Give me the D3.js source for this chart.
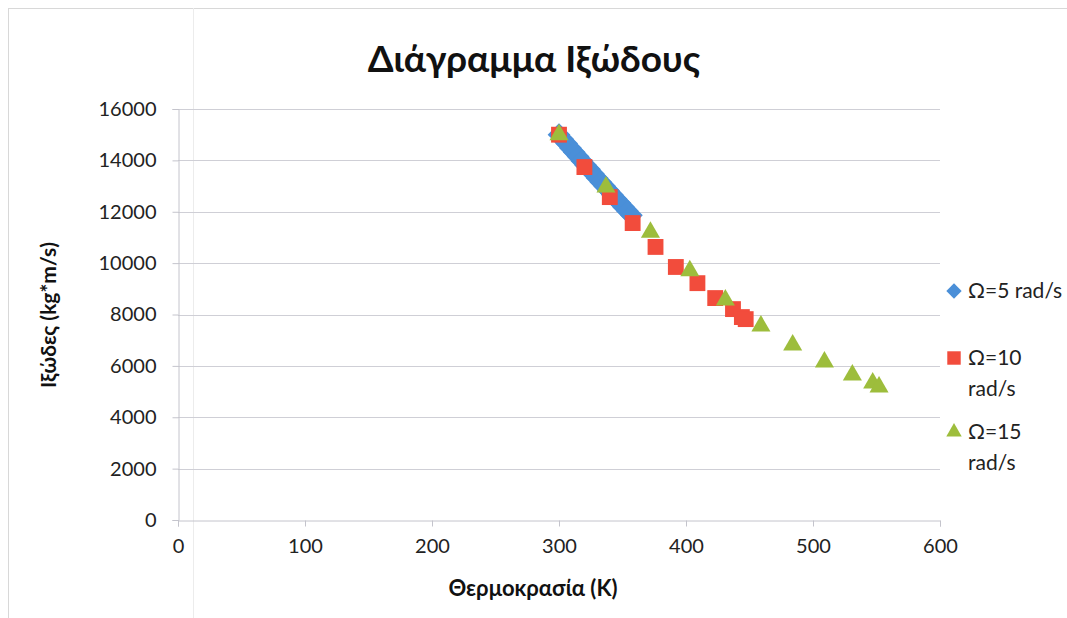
<!DOCTYPE html>
<html>
<head>
<meta charset="utf-8">
<script src="https://cdn.jsdelivr.net/npm/d3@7"></script>
<style>
  body { margin: 0; background: #fff; }
  svg { display: block; font-family: Lato, "Open Sans", sans-serif; }
</style>
</head>
<body>
<svg id="chart" width="1067" height="618"></svg>
<script>
// Viscosity vs temperature for three angular velocities
const temp5  = [300, 303, 306, 309, 312, 315, 318, 321, 324, 327, 330, 333, 336, 339, 342, 345, 348, 351, 354, 357];
const visc5  = [15000, 14820, 14660, 14480, 14320, 14150, 13980, 13810, 13650, 13480, 13310, 13150, 12990, 12830, 12660, 12500, 12340, 12180, 12020, 11860];

const temp10 = [300, 320, 340, 358, 376, 392, 409, 423, 437, 444, 447];
const visc10 = [15000, 13740, 12570, 11560, 10630, 9850, 9220, 8640, 8210, 7900, 7820];

const temp15 = [300, 337, 372, 403, 431, 459, 484, 509, 531, 547, 552];
const visc15 = [15000, 12960, 11200, 9700, 8560, 7550, 6810, 6150, 5640, 5330, 5180];

const xTicks = [0, 100, 200, 300, 400, 500, 600];
const yTicks = [0, 2000, 4000, 6000, 8000, 10000, 12000, 14000, 16000];

const seriesNames = ["Ω=5 rad/s", "Ω=10 rad/s", "Ω=15 rad/s"];
const colors = ["#4a8fd8", "#f24c3c", "#9dbd3c"];

const svg = d3.select("#chart");
const plot = { left: 178, right: 940, top: 109, bottom: 520 };

const x = d3.scaleLinear().domain([0, 600]).range([plot.left, plot.right]);
const y = d3.scaleLinear().domain([0, 16000]).range([plot.bottom, plot.top]);

// faint frame edges
svg.append("line").attr("x1", 8).attr("x2", 1067).attr("y1", 8.5).attr("y2", 8.5)
  .attr("stroke", "#d8d8d8").attr("stroke-width", 1);
svg.append("line").attr("x1", 8.5).attr("x2", 8.5).attr("y1", 8).attr("y2", 618)
  .attr("stroke", "#d8d8d8").attr("stroke-width", 1);
svg.append("line").attr("x1", 193.5).attr("x2", 193.5).attr("y1", 8).attr("y2", 618)
  .attr("stroke", "#ececec").attr("stroke-width", 1);

// horizontal gridlines
svg.append("g")
  .selectAll("line")
  .data(yTicks.filter(d => d > 0))
  .join("line")
  .attr("x1", plot.left).attr("x2", plot.right)
  .attr("y1", d => Math.round(y(d)) + 0.5).attr("y2", d => Math.round(y(d)) + 0.5)
  .attr("stroke", "#cfcfd6").attr("stroke-width", 1);

// y axis
const yAxis = svg.append("g")
  .attr("transform", `translate(${plot.left + 0.5},0)`)
  .call(d3.axisLeft(y).tickValues(yTicks).tickSize(6).tickPadding(16).tickFormat(d3.format("d")));
yAxis.select(".domain").attr("stroke", "#c4c4cc");
yAxis.selectAll(".tick line").attr("stroke", "#c4c4cc");
yAxis.selectAll("text").attr("font-size", 20).attr("fill", "#222")
  .attr("font-family", "Lato, 'Open Sans', sans-serif");

// x axis
const xAxis = svg.append("g")
  .attr("transform", `translate(0,${plot.bottom + 0.5})`)
  .call(d3.axisBottom(x).tickValues(xTicks).tickSize(6).tickPadding(12).tickFormat(d3.format("d")));
xAxis.select(".domain").attr("stroke", "#c4c4cc");
xAxis.selectAll(".tick line").attr("stroke", "#c4c4cc");
xAxis.selectAll("text").attr("font-size", 20).attr("fill", "#222")
  .attr("font-family", "Lato, 'Open Sans', sans-serif");

// markers
const sym5 = d3.symbol().type(d3.symbolDiamond2).size(330);
const sym10 = d3.symbol().type(d3.symbolSquare2).size(320);
const sym15 = d3.symbol().type(d3.symbolTriangle2).size(260);

function drawSeries(xs, ys, sym, color) {
  svg.append("g")
    .selectAll("path")
    .data(xs.map((t, i) => [t, ys[i]]))
    .join("path")
    .attr("transform", d => `translate(${x(d[0])},${y(d[1])})`)
    .attr("d", sym)
    .attr("fill", color);
}
drawSeries(temp5, visc5, sym5, colors[0]);
drawSeries(temp10, visc10, sym10, colors[1]);
drawSeries(temp15, visc15, sym15, colors[2]);

// title
svg.append("text")
  .attr("x", 534).attr("y", 72)
  .attr("text-anchor", "middle")
  .attr("font-size", 37).attr("font-weight", "bold").attr("fill", "#111")
  .text("Διάγραμμα Ιξώδους");

// axis titles
svg.append("text")
  .attr("x", 533).attr("y", 596)
  .attr("text-anchor", "middle")
  .attr("font-size", 22).attr("font-weight", "bold").attr("fill", "#111")
  .text("Θερμοκρασία (K)");

svg.append("text")
  .attr("transform", "translate(56,315) rotate(-90)")
  .attr("text-anchor", "middle")
  .attr("font-size", 21).attr("font-weight", "bold").attr("fill", "#111")
  .text("Ιξώδες (kg*m/s)");

// legend
const legend = [
  { sym: d3.symbol().type(d3.symbolDiamond2).size(150), cy: 291, lines: ["Ω=5 rad/s"] },
  { sym: d3.symbol().type(d3.symbolSquare2).size(230), cy: 358, lines: ["Ω=10", "rad/s"] },
  { sym: d3.symbol().type(d3.symbolTriangle2).size(170), cy: 432, lines: ["Ω=15", "rad/s"] }
];
legend.forEach((l, i) => {
  svg.append("path")
    .attr("transform", `translate(954,${l.cy})`)
    .attr("d", l.sym)
    .attr("fill", colors[i]);
  const t = svg.append("text")
    .attr("x", 968).attr("y", l.cy + 7)
    .attr("font-size", 21).attr("fill", "#222");
  l.lines.forEach((s, j) => {
    t.append("tspan").attr("x", 968).attr("dy", j === 0 ? 0 : 31).text(s);
  });
});
</script>
</body>
</html>
